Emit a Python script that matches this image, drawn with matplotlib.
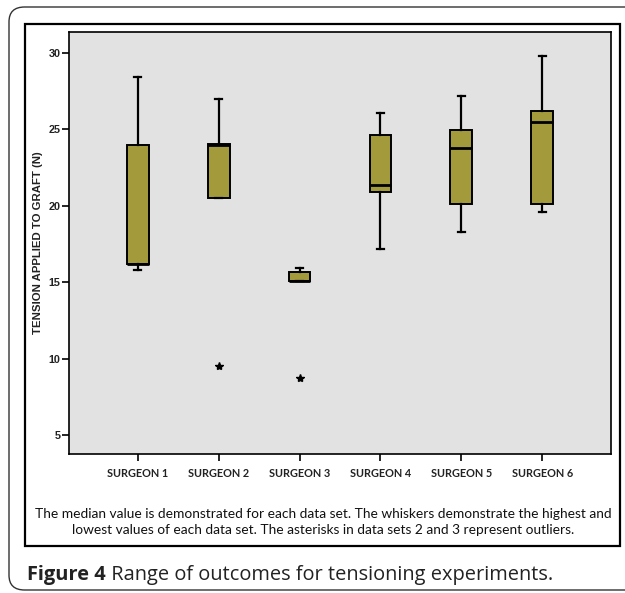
import numpy as np
import matplotlib
matplotlib.use("Agg")
import matplotlib.pyplot as plt
from matplotlib.patches import FancyBboxPatch, Rectangle

# values
surgeons = ["SURGEON 1", "SURGEON 2", "SURGEON 3", "SURGEON 4", "SURGEON 5", "SURGEON 6"]
whisk_lo = [15.8, 20.5, 15.05, 17.2, 18.3, 19.6]
q1 = [16.2, 20.5, 15.05, 20.9, 20.1, 20.1]
median = [16.2, 24.0, 15.1, 21.35, 23.8, 25.5]
q3 = [24.0, 24.05, 15.65, 24.6, 24.95, 26.2]
whisk_hi = [28.4, 27.0, 15.9, 26.1, 27.2, 29.8]
outliers = [[], [9.5], [8.7], [], [], []]
y_ticks = [5, 10, 15, 20, 25, 30]

note = ("The median value is demonstrated for each data set. The whiskers demonstrate the highest and\n"
        "lowest values of each data set. The asterisks in data sets 2 and 3 represent outliers.")
cap_bold = "Figure 4"
cap_rest = " Range of outcomes for tensioning experiments."

W, H = 625, 593
fig = plt.figure(figsize=(W / 100, H / 100), dpi=100)

# outer rounded frame and inner black frame (pixel coords -> figure coords)
fig.patches.append(FancyBboxPatch((9 / W, 1 - 590 / H), 660 / W, 583 / H,
                                  boxstyle="round,pad=0,rounding_size=0.025",
                                  transform=fig.transFigure, fill=False,
                                  edgecolor="#333333", linewidth=1.0))
fig.patches.append(Rectangle((25 / W, 1 - 546 / H), 595 / W, 522 / H,
                             transform=fig.transFigure, fill=False,
                             edgecolor="black", linewidth=1.6))

ax = fig.add_axes([69 / W, 1 - 454 / H, 542 / W, 422 / H])
ax.set_facecolor("#e2e2e2")

stats = []
for i in range(len(surgeons)):
    stats.append(dict(med=median[i], q1=q1[i], q3=q3[i],
                      whislo=whisk_lo[i], whishi=whisk_hi[i],
                      fliers=outliers[i], label=surgeons[i]))

pos = np.arange(1, len(surgeons) + 1)
ax.bxp(stats, positions=pos, widths=0.27, patch_artist=True, capwidths=0.09,
       boxprops=dict(facecolor="#a39a3c", edgecolor="black", linewidth=1.4),
       medianprops=dict(color="black", linewidth=2.0),
       whiskerprops=dict(color="black", linewidth=1.6),
       capprops=dict(color="black", linewidth=1.6),
       flierprops=dict(marker="*", markersize=6, markerfacecolor="black",
                       markeredgecolor="black"))

ax.set_xlim(0.15, 6.85)
ax.set_ylim(3.76, 31.37)
ax.set_yticks(y_ticks)
ax.set_yticklabels([str(v) for v in y_ticks], fontsize=7.8, fontweight="bold",
                   family="Liberation Sans", color="#222222")
ax.set_xticks(pos)
ax.set_xticklabels(surgeons, fontsize=7.8, fontweight="bold", family="Lato",
                   color="#222222")
ax.tick_params(axis="y", length=5, width=1.2, pad=1)
ax.tick_params(axis="x", length=5, width=1.2, pad=5)
ax.set_ylabel("TENSION APPLIED TO GRAFT (N)", fontsize=8.2, fontweight="bold",
              family="Liberation Sans", color="#222222", labelpad=4)
for s in ax.spines.values():
    s.set_linewidth(1.2)

fig.text(323 / W, 1 - 522 / H, note, ha="center", va="center", fontsize=9.9,
         family="Lato", linespacing=1.3, color="#111111")

t1 = fig.text(27 / W, 1 - 575 / H, cap_bold, ha="left", va="center", fontsize=14.4,
              fontweight="bold", family="Open Sans", color="#222222")
fig.canvas.draw()
bb = t1.get_window_extent(fig.canvas.get_renderer())
fig.text(bb.x1 / W, 1 - 575 / H, cap_rest, ha="left", va="center", fontsize=14.4,
         family="Open Sans", color="#222222")

fig.savefig("out.png", dpi=100)
